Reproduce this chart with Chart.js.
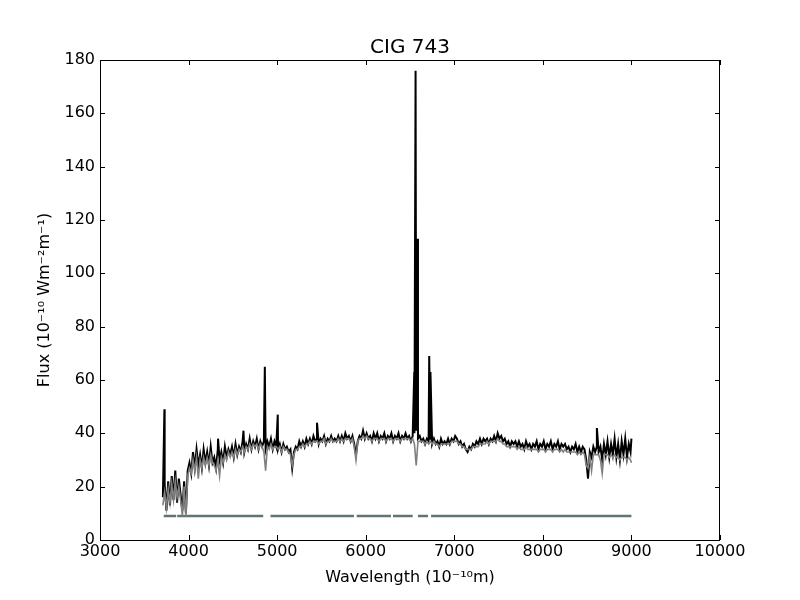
<!DOCTYPE html>
<html><head><meta charset="utf-8">
<script src="https://cdn.jsdelivr.net/npm/chart.js@4.4.1/dist/chart.umd.min.js"></script>
<style>html,body{margin:0;padding:0;background:#fff}</style>
</head><body>
<canvas id="c" width="800" height="600"></canvas>
<script>
const chartTitle = 'CIG 743';
const xTicks = [3000,4000,5000,6000,7000,8000,9000,10000];
const yTicks = [0,20,40,60,80,100,120,140,160,180];

const wavelength = [
3710,3730,3750,3770,3790,3810,3830,3850,3870,3890,
3910,3930,3950,3970,3990,4010,4030,4050,4070,4090,
4110,4130,4150,4170,4190,4210,4230,4250,4270,4290,
4310,4330,4350,4370,4390,4410,4430,4450,4470,4490,
4510,4530,4550,4570,4590,4610,4630,4650,4670,4690,
4710,4730,4750,4770,4790,4810,4830,4850,4870,4890,
4910,4930,4950,4970,4990,5010,5030,5050,5070,5090,
5110,5130,5150,5170,5190,5210,5230,5250,5270,5290,
5310,5330,5350,5370,5390,5410,5430,5450,5470,5490,
5510,5530,5550,5570,5590,5610,5630,5650,5670,5690,
5710,5730,5750,5770,5790,5810,5830,5850,5870,5890,
5910,5930,5950,5970,5990,6010,6030,6050,6070,6090,
6110,6130,6150,6170,6190,6210,6230,6250,6270,6290,
6310,6330,6350,6370,6390,6410,6430,6450,6470,6490,
6510,6530,6550,6570,6590,6610,6630,6650,6670,6690,
6710,6730,6750,6770,6790,6810,6830,6850,6870,6890,
6910,6930,6950,6970,6990,7010,7030,7050,7070,7090,
7110,7130,7150,7170,7190,7210,7230,7250,7270,7290,
7310,7330,7350,7370,7390,7410,7430,7450,7470,7490,
7510,7530,7550,7570,7590,7610,7630,7650,7670,7690,
7710,7730,7750,7770,7790,7810,7830,7850,7870,7890,
7910,7930,7950,7970,7990,8010,8030,8050,8070,8090,
8110,8130,8150,8170,8190,8210,8230,8250,8270,8290,
8310,8330,8350,8370,8390,8410,8430,8450,8470,8490,
8510,8530,8550,8570,8590,8610,8630,8650,8670,8690,
8710,8730,8750,8770,8790,8810,8830,8850,8870,8890,
8910,8930,8950,8970,8990,9000];

const observedFlux = [
16,21,11,22,13,24,15,26,14,23,
17,11,22,10,26,29,25,33,27,34,
28,32,27,34,29,33,28,35,29,31,
27,34,30,33,29,35,31,34,32,35,
31,36,32,35,33,37,33,36,34,38,
34,37,35,38,34,37,35,37,34,37,
35,38,34,37,35,34,36,33,36,34,
35,33,34,27,33,35,34,37,35,37,
35,38,36,38,36,39,37,38,36,38,
37,39,36,38,37,39,37,38,37,39,
37,39,37,40,38,39,37,39,36,32,
37,39,38,41,38,40,38,39,37,40,
38,40,37,39,38,40,37,39,38,40,
37,39,38,40,37,39,38,40,38,39,
37,39,40,41,38,39,37,38,36,38,
37,38,36,38,36,37,35,38,36,37,
36,38,36,38,37,39,38,36,37,35,
36,34,33,35,34,36,35,37,36,38,
36,38,37,38,36,38,37,39,37,40,
38,39,37,38,36,37,35,37,36,37,
35,37,35,36,34,37,35,36,34,36,
35,37,34,36,35,37,34,36,35,37,
34,36,35,37,34,36,35,36,34,35,
33,35,34,36,33,35,33,35,34,30,
23,33,31,35,33,35,33,35,30,36,
32,37,31,36,32,38,31,36,30,37,
32,38,31,36,33,38];

const modelFlux = [
13,18,12,19,14,21,15,22,16,20,
15,9,20,9,24,27,25,30,26,31,
23,30,27,31,28,31,28,32,29,28,
26,30,24,31,29,32,30,33,31,33,
31,34,32,34,33,35,33,35,34,36,
34,36,35,36,34,36,35,33,26,35,
34,36,34,35,35,34,35,33,35,34,
34,33,32,28,32,34,34,35,35,36,
35,36,36,37,36,37,37,37,36,37,
37,38,36,37,37,38,37,37,37,38,
37,38,37,38,38,38,37,38,35,30,
37,38,38,39,38,39,38,38,37,38,
38,38,37,38,38,38,37,38,38,38,
37,38,38,38,37,38,38,38,38,38,
37,38,36,28,37,37,37,37,36,37,
36,37,36,37,36,36,35,36,36,36,
36,36,36,37,37,37,37,36,36,35,
35,34,34,34,34,35,35,35,35,36,
36,36,36,37,36,37,37,37,37,38,
37,37,36,36,35,35,35,35,35,35,
34,35,34,34,34,35,34,34,34,34,
34,34,33,34,34,34,33,34,34,34,
33,34,34,34,33,34,33,34,33,33,
33,33,33,33,32,33,32,33,32,28,
27,31,26,32,32,32,32,30,25,32,
32,32,31,32,31,32,31,31,30,31,
31,31,30,31,30,29];

// emission-line peaks of the observed spectrum
const lineWave = [3727, 4333, 4620, 4861, 5007, 5450, 6548, 6563, 6584, 6717, 6731, 8610];
const lineFlux = [49, 38, 41, 65, 47, 44, 63, 176, 113, 69, 63, 42];

// masked-region indicator
const maskStart = [3720, 3872, 4925, 5898, 6308, 6590, 6738];
const maskEnd   = [3860, 4843, 5867, 6285, 6530, 6703, 9000];
const maskLevel = 9;

const observed = wavelength.map((w,i)=>({x:w,y:observedFlux[i]}))
  .concat(lineWave.map((w,i)=>({x:w,y:lineFlux[i]})))
  .sort((a,b)=>a.x-b.x);
const model = wavelength.map((w,i)=>({x:w,y:modelFlux[i]}));
const mask = [];
maskStart.forEach((s,i)=>{
  mask.push({x:s,y:maskLevel});
  mask.push({x:maskEnd[i],y:maskLevel});
  if (i < maskStart.length-1) mask.push({x:(maskEnd[i]+maskStart[i+1])/2,y:null});
});

const FONT = '"DejaVu Sans", sans-serif';

const frame = {
  id:'frame',
  afterDraw(chart){
    const {ctx, chartArea:a, scales:{x,y}} = chart;
    ctx.save();
    ctx.strokeStyle = '#000';
    ctx.lineWidth = 1;
    ctx.beginPath();
    xTicks.forEach(v=>{
      const p = Math.round(x.getPixelForValue(v))+0.5;
      ctx.moveTo(p,a.bottom); ctx.lineTo(p,a.bottom-5);
      ctx.moveTo(p,a.top); ctx.lineTo(p,a.top+5);
    });
    yTicks.forEach(v=>{
      const p = Math.round(y.getPixelForValue(v))+0.5;
      ctx.moveTo(a.left,p); ctx.lineTo(a.left+5,p);
      ctx.moveTo(a.right,p); ctx.lineTo(a.right-5,p);
    });
    ctx.stroke();
    ctx.strokeRect(a.left+0.5, a.top+0.5, a.right-a.left-1, a.bottom-a.top);
    ctx.fillStyle = '#000';
    ctx.font = '20px ' + FONT;
    ctx.textAlign = 'center';
    ctx.textBaseline = 'alphabetic';
    ctx.fillText(chartTitle, (a.left+a.right)/2, 53);
    ctx.restore();
  }
};

new Chart(document.getElementById('c'), {
  type:'line',
  data:{datasets:[
    {label:'mask', data:mask, borderColor:'#627373', borderWidth:2.5, pointRadius:0, spanGaps:false, order:3, tension:0},
    {label:'observed', data:observed, borderColor:'#000000', borderWidth:2, pointRadius:0, order:2, tension:0},
    {label:'model', data:model, borderColor:'#808080', borderWidth:1.6, pointRadius:0, order:1, tension:0}
  ]},
  options:{
    responsive:false,
    animation:false,
    layout:{padding:{left:0,right:80,top:60,bottom:0}},
    plugins:{legend:{display:false}, tooltip:{enabled:false}, title:{display:false}},
    scales:{
      x:{
        type:'linear', min:3000, max:10000,
        afterBuildTicks:s=>{s.ticks = xTicks.map(v=>({value:v}));},
        afterFit:s=>{s.height = 60;},
        ticks:{color:'#000', font:{family:FONT,size:16}, padding:2, maxRotation:0, autoSkip:false, callback:v=>String(v)},
        grid:{drawOnChartArea:false, drawTicks:false},
        border:{display:false},
        title:{display:true, text:'Wavelength (10\u207B\u00B9\u2070m)', color:'#000', font:{family:FONT,size:16}, padding:{top:0,bottom:13}}
      },
      y:{
        type:'linear', min:0, max:180,
        afterBuildTicks:s=>{s.ticks = yTicks.map(v=>({value:v}));},
        afterFit:s=>{s.width = 100;},
        ticks:{color:'#000', font:{family:FONT,size:16}, padding:5, callback:v=>String(v)},
        grid:{drawOnChartArea:false, drawTicks:false},
        border:{display:false},
        title:{display:true, text:'Flux (10\u207B\u00B9\u2070 Wm\u207B\u00B2m\u207B\u00B9)', color:'#000', font:{family:FONT,size:16}, padding:{top:35,bottom:0}}
      }
    }
  },
  plugins:[frame]
});
</script>
</body></html>
